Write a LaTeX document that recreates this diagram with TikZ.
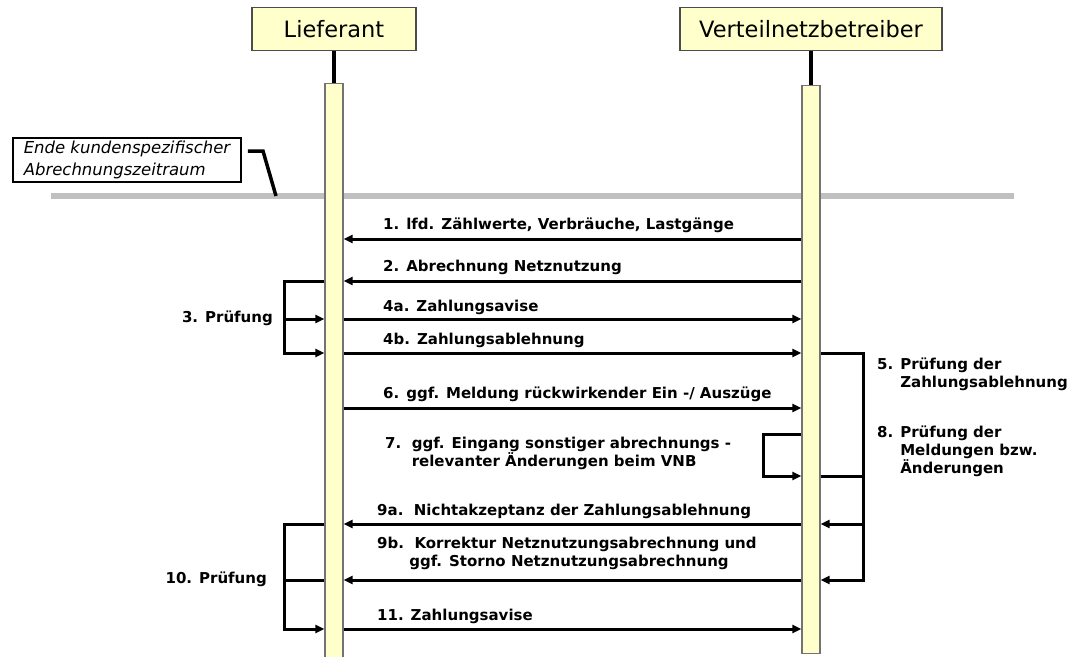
\documentclass[tikz,border=0pt]{standalone}
\usepackage{fontspec}
\setmainfont{DejaVu Sans}
\usetikzlibrary{arrows.meta}
\definecolor{paleyellow}{HTML}{FFFFCC}
\definecolor{sepgray}{HTML}{C0C0C0}

\begin{document}
\begin{tikzpicture}
	[x=1pt,y=-1pt]
	\tikzstyle{actor}=[rectangle, draw=black!70, line width=1.8pt, fill=paleyellow, inner sep=0pt, minimum height=43pt, font=\fontsize{22.5}{27}\selectfont];
	\tikzstyle{bar}=[rectangle, draw=black!55, line width=1.4pt, fill=paleyellow, minimum width=18pt, inner sep=0pt, anchor=north];
	\tikzstyle{note}=[rectangle, draw=black, line width=1.8pt, fill=white, align=left, inner sep=2pt, minimum width=228pt, minimum height=44pt, font=\itshape\fontsize{16.5}{22}\selectfont];
	\tikzstyle{life}=[line width=3.5pt];
	\tikzstyle{msg}=[line width=3pt, -{Triangle[length=9pt,width=8pt]}];
	\tikzstyle{plain}=[line width=3pt];
	\tikzstyle{lbl}=[inner sep=0pt, anchor=west, align=left, font=\bfseries\fontsize{15}{18}\selectfont];

	\useasboundingbox (0,0) rectangle (1073,656);

	% Ende des Abrechnungszeitraums
	\coordinate (sepW) at (51,196);
	\coordinate (sepE) at (1014,196);
	\draw[sepgray, line width=6pt] (sepW) -- (sepE);

	\node[actor, minimum width=164pt] (lief) at (334,29) {Lieferant};
	\node[actor, minimum width=262pt] (vnb) at (811,29) {Verteilnetzbetreiber};
	\node[bar, minimum height=574pt] (barL) at (334,83) {};
	\node[bar, minimum height=568pt] (barV) at (811,85) {};
	\draw[life] (lief.south) -- (barL.north);
	\draw[life] (vnb.south) -- (barV.north);

	\node[note] (ende) at (127,160) {Ende kundenspezifischer\\Abrechnungszeitraum};
	\coordinate (kink) at (263,151);
	\coordinate (tick) at (276,196);
	\draw[life, shorten <=6pt] (ende.east |- kink) -- (kink) -- (tick);

	% Nachrichten
	\coordinate (m1) at (0,239);
	\coordinate (m2) at (0,281);
	\coordinate (m4a) at (0,319);
	\coordinate (m4b) at (0,353);
	\coordinate (m6) at (0,408);
	\coordinate (m7a) at (0,434);
	\coordinate (m7b) at (0,476);
	\coordinate (m9a) at (0,524);
	\coordinate (m9b) at (0,580);
	\coordinate (m11) at (0,629);
	\coordinate (pl) at (284,0);
	\coordinate (pv) at (763,0);
	\coordinate (pr) at (863,0);

	\draw[msg] (barV.west |- m1) -- (barL.east |- m1);
	\draw[msg] (barV.west |- m2) -- (barL.east |- m2);
	\draw[msg] (barL.east |- m4a) -- (barV.west |- m4a);
	\draw[msg] (barL.east |- m4b) -- (barV.west |- m4b);
	\draw[msg] (barL.east |- m6) -- (barV.west |- m6);
	\draw[msg] (barV.west |- m9a) -- (barL.east |- m9a);
	\draw[msg] (barV.west |- m9b) -- (barL.east |- m9b);
	\draw[msg] (barL.east |- m11) -- (barV.west |- m11);

	% Pruefschleifen
	\draw[msg] (barL.west |- m2) -| (pl |- m4b) -- (barL.west |- m4b);
	\draw[msg] (pl |- m4a) -- (barL.west |- m4a);
	\draw[msg] (barV.west |- m7a) -| (pv |- m7b) -- (barV.west |- m7b);
	\draw[msg] (barV.east |- m4b) -| (pr |- m9b) -- (barV.east |- m9b);
	\draw[plain] (barV.east |- m7b) -- (pr |- m7b);
	\draw[msg] (pr |- m9a) -- (barV.east |- m9a);
	\draw[msg] (barL.west |- m9a) -| (pl |- m11) -- (barL.west |- m11);
	\draw[plain] (pl |- m9b) -- (barL.west |- m9b);

	\node[lbl] (t1) at (383,225) {1. lfd. Zählwerte, Verbräuche, Lastgänge};
	\node[lbl] (t2) at (383,267) {2. Abrechnung Netznutzung};
	\node[lbl, anchor=east] (t3) at (273,318) {3. Prüfung};
	\node[lbl] (t4a) at (383,307) {4a. Zahlungsavise};
	\node[lbl] (t4b) at (383,340) {4b. Zahlungsablehnung};
	\node[lbl] (t5) at (877,374) {5. Prüfung der\\\phantom{5. }Zahlungsablehnung};
	\node[lbl] (t6) at (383,394) {6. ggf. Meldung rückwirkender Ein -/ Auszüge};
	\node[lbl] (t7) at (385,453) {7.\ \ ggf. Eingang sonstiger abrechnungs -\\\phantom{7.\ \ }relevanter Änderungen beim VNB};
	\node[lbl] (t8) at (877,451) {8. Prüfung der\\\phantom{8. }Meldungen bzw.\\\phantom{8. }Änderungen};
	\node[lbl] (t9a) at (377,511) {9a.\ \ Nichtakzeptanz der Zahlungsablehnung};
	\node[lbl] (t9b) at (377,553) {9b.\ \ Korrektur Netznutzungsabrechnung und\\\phantom{9b.\ }ggf. Storno Netznutzungsabrechnung};
	\node[lbl, anchor=east] (t10) at (267,579) {10. Prüfung};
	\node[lbl] (t11) at (377,616) {11. Zahlungsavise};

\end{tikzpicture}
\end{document}
